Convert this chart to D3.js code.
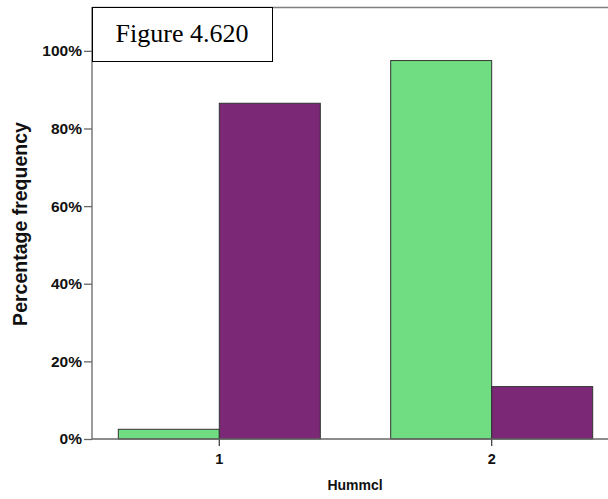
<!DOCTYPE html>
<html>
<head>
<meta charset="utf-8">
<script src="https://cdn.jsdelivr.net/npm/d3@7"></script>
<style>
  html, body { margin: 0; padding: 0; background: #fff; }
  svg { display: block; }
</style>
</head>
<body>
<svg id="chart" width="608" height="499"></svg>
<script>
// ---- data ----
const categories = ["1", "2"];
const seriesNames = ["green", "purple"];
const greenValues = [2.5, 97.5];
const purpleValues = [86.5, 13.5];
const yTickValues = [0, 20, 40, 60, 80, 100];
const xTitle = "Hummcl";
const yTitle = "Percentage frequency";
const figureLabel = "Figure 4.620";

const seriesColors = { green: "#70dd82", purple: "#7b2877" };

const svg = d3.select("#chart");
const W = 608, H = 499;
const plot = { left: 92, top: 7, right: 619, bottom: 439 };

const x0 = d3.scaleBand()
  .domain(categories)
  .range([plot.left, plot.right])
  .paddingInner(0.2584)
  .paddingOuter(0.0966);

const x1 = d3.scaleBand()
  .domain(seriesNames)
  .range([0, x0.bandwidth()])
  .padding(0);

const y = d3.scaleLinear().domain([0, 111.3]).range([plot.bottom, plot.top]);

const rows = categories.map((c, i) => ({
  cat: c,
  vals: [
    { s: "green", v: greenValues[i] },
    { s: "purple", v: purpleValues[i] }
  ]
}));

// frame top line
svg.append("line")
  .attr("x1", plot.left).attr("x2", W)
  .attr("y1", plot.top + 0.5).attr("y2", plot.top + 0.5)
  .attr("stroke", "#808080").attr("stroke-width", 1.5);

// bars
const g = svg.append("g");
g.selectAll("g.grp").data(rows).join("g")
  .attr("class", "grp")
  .attr("transform", d => `translate(${x0(d.cat)},0)`)
  .selectAll("rect").data(d => d.vals).join("rect")
  .attr("x", d => x1(d.s))
  .attr("y", d => y(d.v))
  .attr("width", x1.bandwidth())
  .attr("height", d => y(0) - y(d.v))
  .attr("fill", d => seriesColors[d.s])
  .attr("stroke", "#333")
  .attr("stroke-width", 1);

// y axis
const yAxis = svg.append("g")
  .attr("transform", `translate(${plot.left},0)`)
  .call(d3.axisLeft(y).tickValues(yTickValues).tickFormat(d => d + "%").tickSize(8).tickPadding(2).tickSizeOuter(0));
yAxis.select(".domain").remove();
yAxis.append("line")
  .attr("x1", 0).attr("x2", 0)
  .attr("y1", plot.top).attr("y2", plot.bottom)
  .attr("stroke", "#666").attr("stroke-width", 1.3);
yAxis.selectAll(".tick line").attr("stroke", "#666").attr("stroke-width", 1.3);
yAxis.selectAll(".tick text")
  .attr("fill", "#111")
  .style("font-family", "'Liberation Sans', Arial, sans-serif")
  .style("font-size", "15.5px")
  .style("font-weight", "bold");

// x axis
const xAxis = svg.append("g")
  .attr("transform", `translate(0,${plot.bottom})`)
  .call(d3.axisBottom(x0).tickSize(7).tickPadding(8).tickSizeOuter(0));
xAxis.select(".domain").remove();
xAxis.append("line")
  .attr("x1", plot.left).attr("x2", W)
  .attr("y1", 0).attr("y2", 0)
  .attr("stroke", "#666").attr("stroke-width", 1.5);
xAxis.selectAll(".tick line").attr("stroke", "#444").attr("stroke-width", 1.3);
xAxis.selectAll(".tick text")
  .attr("fill", "#111")
  .style("font-family", "'Liberation Sans', Arial, sans-serif")
  .style("font-size", "14.5px")
  .style("font-weight", "bold");

// axis titles
svg.append("text")
  .attr("x", 355).attr("y", 490)
  .attr("text-anchor", "middle")
  .style("font-family", "'Liberation Sans', Arial, sans-serif")
  .style("font-size", "14px")
  .style("font-weight", "bold")
  .attr("fill", "#111")
  .text(xTitle);

svg.append("text")
  .attr("transform", "translate(27,224) rotate(-90)")
  .attr("text-anchor", "middle")
  .style("font-family", "'Liberation Sans', Arial, sans-serif")
  .style("font-size", "19.5px")
  .style("font-weight", "bold")
  .attr("fill", "#111")
  .text(yTitle);

// figure label box
const box = svg.append("g");
box.append("rect")
  .attr("x", plot.left + 0.5).attr("y", plot.top + 0.5)
  .attr("width", 180).attr("height", 54)
  .attr("fill", "#fff").attr("stroke", "#000").attr("stroke-width", 1);
box.append("text")
  .attr("x", plot.left + 90).attr("y", 42)
  .attr("text-anchor", "middle")
  .style("font-family", "'Liberation Serif', 'Times New Roman', serif")
  .style("font-size", "26px")
  .attr("fill", "#000")
  .text(figureLabel);
</script>
</body>
</html>
